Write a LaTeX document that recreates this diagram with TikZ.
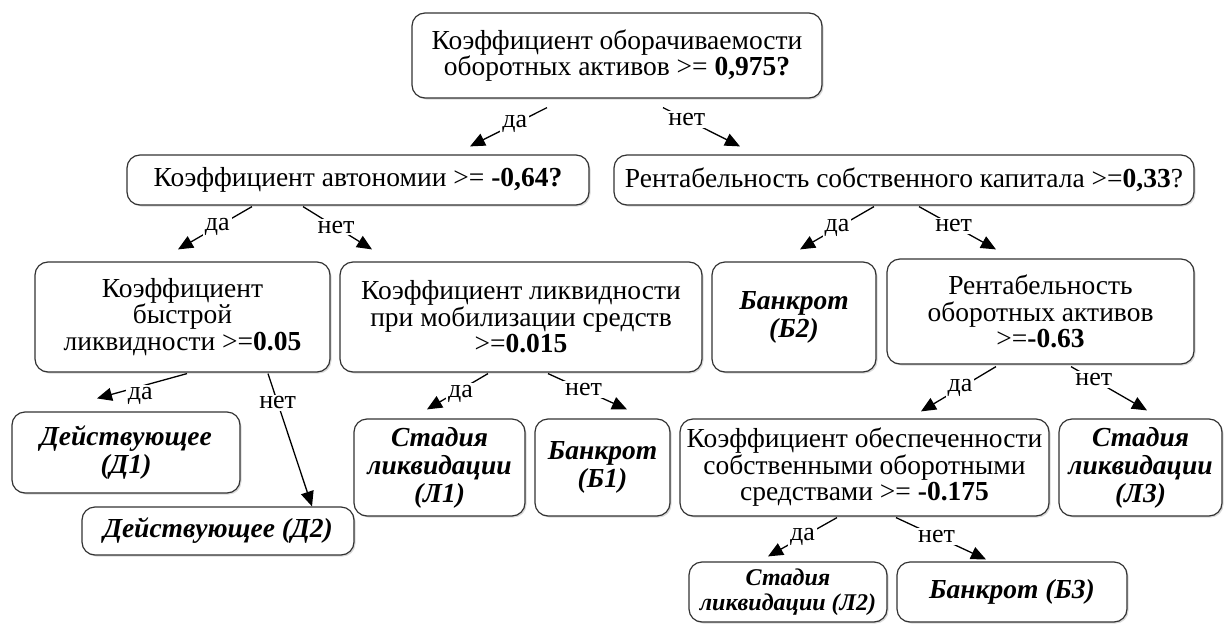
\documentclass[tikz,border=0pt]{standalone}
\usepackage{fontspec}
\setmainfont{Liberation Serif}
\usetikzlibrary{arrows.meta,shadows}
\tikzset{
  decision/.style={draw=black!80, line width=1.2pt, rounded corners=13pt, fill=white, align=center, inner sep=2pt,
    font=\fontsize{27.5}{26.5}\selectfont, drop shadow={shadow xshift=1.5pt, shadow yshift=-1.5pt, fill=black!30}},
  outcome/.style={decision, font=\fontsize{27.5}{28}\selectfont\bfseries\itshape},
  branch/.style={-{Triangle[length=15pt,width=13pt]}, line width=1.3pt, draw=black},
  answer/.style={fill=white, inner sep=2pt, font=\fontsize{26}{26}\selectfont}
}
\begin{document}
\begin{tikzpicture}[x=1pt,y=-1pt]
    \useasboundingbox (0,0) rectangle (1224,624);
    % boxes
    \node[decision, minimum width=410pt, minimum height=85pt] (turn) at (617,55.5) {Коэффициент оборачиваемости\\оборотных активов >= \textbf{0,975?}};
    \node[decision, minimum width=462pt, minimum height=50pt] (auton) at (358,180) {Коэффициент автономии >= \textbf{-0,64?}};
    \node[decision, minimum width=580pt, minimum height=50pt] (equity) at (904,180) {Рентабельность собственного капитала >=\textbf{0,33}?};
    \node[decision, minimum width=295pt, minimum height=110pt] (quick) at (182.5,317) {Коэффициент\\быстрой\\ликвидности >=\textbf{0.05}};
    \node[decision, minimum width=362pt, minimum height=110pt] (mobil) at (521,317) {Коэффициент ликвидности\\при мобилизации средств\\>=\textbf{0.015}};
    \node[outcome, minimum width=164pt, minimum height=110pt] (bankB) at (794,317) {Банкрот\\(Б2)};
    \node[decision, minimum width=307pt, minimum height=105pt] (assets) at (1040.5,311.5) {Рентабельность\\оборотных активов\\>=\textbf{-0.63}};
    \node[outcome, minimum width=228pt, minimum height=81pt] (actA) at (126,452.5) {Действующее\\(Д1)};
    \node[outcome, minimum width=272pt, minimum height=48pt] (actB) at (218,531) {Действующее (Д2)};
    \node[outcome, minimum width=171pt, minimum height=97pt] (liqA) at (439.5,467.5) {Стадия\\ликвидации\\(Л1)};
    \node[outcome, minimum width=135pt, minimum height=97pt] (bankA) at (602.5,467.5) {Банкрот\\(Б1)};
    \node[decision, minimum width=369pt, minimum height=97pt] (cover) at (864.5,467.5) {Коэффициент обеспеченности\\собственными оборотными\\средствами >= \textbf{-0.175}};
    \node[outcome, minimum width=163pt, minimum height=97pt] (liqC) at (1140.5,467.5) {Стадия\\ликвидации\\(Л3)};
    \node[outcome, minimum width=198pt, minimum height=60pt, font=\fontsize{24}{25}\selectfont\bfseries\itshape] (liqB) at (788,592) {Стадия\\ликвидации (Л2)};
    \node[outcome, minimum width=230pt, minimum height=60pt] (bankC) at (1012,592) {Банкрот (Б3)};
    % branches
    \draw[branch] ([shift={(-70,9)}]turn.south) -- node[answer, pos=.42] {да} ([shift={(112,-8)}]auton.north);
    \draw[branch] ([shift={(46,9)}]turn.south) -- node[answer, pos=.31] {нет} ([shift={(-164,-8)}]equity.north);
    \draw[branch] ([shift={(-106,1)}]auton.south) -- node[answer, pos=.47] {да} ([shift={(-4.5,-12)}]quick.north);
    \draw[branch] ([shift={(-55,1)}]auton.south) -- node[answer, pos=.48] {нет} ([shift={(-149,-12)}]mobil.north);
    \draw[branch] ([shift={(-30,1)}]equity.south) -- node[answer, pos=.5] {да} ([shift={(6,-12)}]bankB.north);
    \draw[branch] ([shift={(15,1)}]equity.south) -- node[answer, pos=.45] {нет} ([shift={(-44.5,-9)}]assets.north);
    \draw[branch] ([shift={(4.5,1)}]quick.south) -- node[answer, pos=.52, yshift=-9pt] {да} ([shift={(-29,-13)}]actA.north);
    \draw[branch] ([shift={(85.5,1)}]quick.south) -- node[answer, pos=.22] {нет} ([shift={(94,0)}]actB.north);
    \draw[branch] ([shift={(-33,1)}]mobil.south) -- node[answer, pos=.45, yshift=-4pt] {да} ([shift={(-12.5,-9)}]liqA.north);
    \draw[branch] ([shift={(27,1)}]mobil.south) -- node[answer, pos=.45] {нет} ([shift={(24.5,-9)}]bankA.north);
    \draw[branch] ([shift={(-44.5,2)}]assets.south) -- node[answer, pos=.48] {да} ([shift={(56.5,-7)}]cover.north);
    \draw[branch] ([shift={(30.5,2)}]assets.south) -- node[answer, pos=.3] {нет} ([shift={(6.5,-8)}]liqC.north);
    \draw[branch] ([shift={(-27.5,1)}]cover.south) -- node[answer, pos=.5] {да} ([shift={(-20,-5)}]liqB.north);
    \draw[branch] ([shift={(31.5,1)}]cover.south) -- node[answer, pos=.45] {нет} ([shift={(-26,-2)}]bankC.north);
\end{tikzpicture}
\end{document}
